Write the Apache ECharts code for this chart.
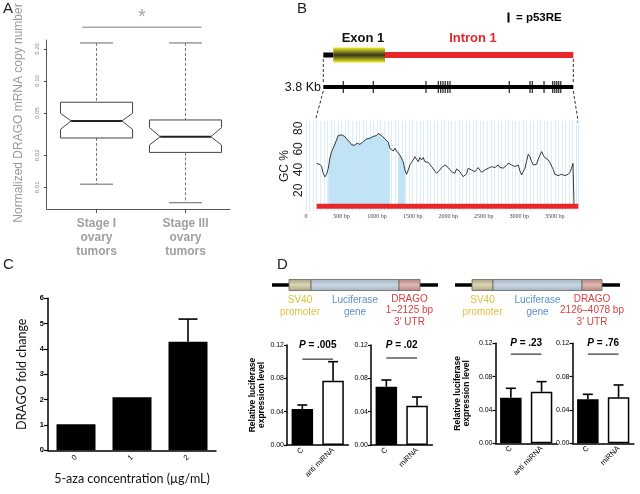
<!DOCTYPE html>
<html><head><meta charset="utf-8">
<script src="https://cdn.jsdelivr.net/npm/echarts@6/dist/echarts.min.js"></script>
<style>html,body{margin:0;padding:0;background:#fff}#c{width:640px;height:494px}</style>
</head><body><div id="c"></div>
<script>
// ---------- Panel A : notched box plot (log scale) ----------
const boxCategories = ['Stage I\novary\ntumors', 'Stage III\novary\ntumors'];
const boxLowWhisker  = [0.0107, 0.00716];
const boxQ1          = [0.0291, 0.0213];
const boxNotchLow    = [0.0351, 0.0250];
const boxMedian      = [0.0421, 0.0299];
const boxNotchHigh   = [0.0497, 0.0364];
const boxQ3          = [0.0631, 0.0430];
const boxHighWhisker = [0.228, 0.228];
const aTicks = [0.01, 0.02, 0.05, 0.10, 0.20];
const sigSpanA = [0.84, 2.18, 0.32, 0.40];   // from, to, line value, star value

// ---------- Panel B : gene structure, p53RE sites, GC content ----------
const kbLength = 3800;
const geneSegments = [[0, 152, 0], [152, 938, 1], [938, 3800, 2]]; // start, end, type(0 utr,1 exon,2 intron)
const p53RE = [304, 760, 1561, 1748, 1784, 1819, 1854, 1891, 1926, 2827, 3142, 3177, 3355, 3487, 3518, 3548, 3578, 3609];
const gcYTicks = [20, 40, 60, 80];
const gcCurve = [
 [150,46],[172,44.5],[196,45],[219,43],[242,36.5],[266,33],[289,35.5],[313,41],[336,51],[360,57.4],
 [383,60.7],[406,62],[430,68.7],[453,73],[477,74],[500,73.6],[524,74.5],[547,72],[571,69.7],[594,67.8],
 [617,66.5],[640,64],[664,65],[688,63.5],[711,65.5],[735,64],[758,64.5],[782,66],[805,67],[828,68.5],
 [852,69.7],[875,69],[899,70.4],[922,71],[945,72],[969,71.5],[993,73],[1016,75],[1040,75],[1063,73],
 [1086,72],[1110,69.7],[1134,68.7],[1157,66.5],[1180,60.7],[1204,59],[1227,58],[1251,60.7],[1274,58],[1297,56.8],
 [1321,54],[1344,52.5],[1367,47.7],[1391,39.7],[1415,35.5],[1438,39.7],[1461,44.5],[1485,47],[1508,49.4],[1532,52.5],
 [1556,51],[1579,47.7],[1602,51.6],[1626,49.4],[1649,51.6],[1672,47.7],[1696,49.4],[1720,47],[1743,46],[1766,43],
 [1790,41.3],[1813,38.5],[1837,36.5],[1860,38],[1883,39.7],[1907,42],[1930,43],[1954,44.5],[1977,43.5],[2000,42],
 [2024,40],[2047,38],[2070,37.5],[2094,36.5],[2118,40.7],[2141,39],[2165,38],[2188,35.5],[2211,33.2],[2235,31.6],
 [2258,36],[2282,41.3],[2305,40.5],[2329,39.7],[2352,38.5],[2376,38],[2399,40],[2422,42],[2446,39.5],[2470,37.4],
 [2493,38.5],[2516,39.7],[2540,40.5],[2563,41.3],[2587,42],[2610,42.9],[2633,41.5],[2657,42],[2680,43.5],[2704,44.5],
 [2727,42],[2751,40.7],[2774,41.5],[2797,41.3],[2821,44],[2844,46.2],[2868,45],[2892,44.5],[2915,43.5],[2938,42.9],
 [2962,43.8],[2985,44.5],[3008,39],[3032,34.8],[3055,38],[3079,41.3],[3102,48],[3126,54.9],[3149,52.6],[3172,48],
 [3196,44.5],[3220,45.5],[3243,45.2],[3267,50],[3290,54],[3314,57.4],[3337,54],[3360,51.6],[3384,50.5],[3407,49.4],
 [3430,47],[3454,45.2],[3478,40],[3501,35.5],[3524,34.5],[3548,34.2],[3571,35],[3595,35.5],[3618,34.8],[3641,34.2],
 [3665,35],[3688,35.5],[3712,37.5],[3735,41.3],[3755,46],[3768,47.7],[3770,5]
];
const cpgIsland1 = [313, 1190];
const cpgIsland2 = [1285, 1400];
const gcBaseBar = [150, 3830, 4.5];

// ---------- Panel C : 5-aza ----------
const cCategories = ['0', '1', '2'];
const cValues = [1.03, 2.03, 4.28];
const cErrTop = [1.03, 2.06, 5.18];

// ---------- Panel D : luciferase ----------
const d1Categories = ['C', 'anti miRNA'], d1Values = [0.0432, 0.077], d1ErrTop = [0.048, 0.100];
const d2Categories = ['C', 'miRNA'],      d2Values = [0.070, 0.047],  d2ErrTop = [0.078, 0.0576];
const d3Categories = ['C', 'anti miRNA'], d3Values = [0.0547, 0.062], d3ErrTop = [0.066, 0.074];
const d4Categories = ['C', 'miRNA'],      d4Values = [0.053, 0.0552], d4ErrTop = [0.0588, 0.070];
const dPValues = ['.005', '.02', '.23', '.76'];
const dPLine = [0.103, 0.1044, 0.107, 0.107];
const dPText = 0.1195;

const FONT = 'Liberation Sans';
const chart = echarts.init(document.getElementById('c'), null, {renderer: 'canvas'});

const grids = [
  {left: 46.7, top: 40, width: 183.3, height: 169},   // 0 A
  {left: 306, top: 121, width: 272.3, height: 90},    // 1 GC
  {left: 323.3, top: 45, width: 250, height: 20},     // 2 gene
  {left: 323.3, top: 78, width: 250, height: 18},     // 3 kb
  {left: 48, top: 298.3, width: 168, height: 152},    // 4 C
  {left: 287, top: 345, width: 61.4, height: 100},    // 5 D1
  {left: 371, top: 345, width: 61.4, height: 100},    // 6 D2
  {left: 495.5, top: 343.3, width: 61.4, height: 100},// 7 D3
  {left: 572.5, top: 343.3, width: 61.4, height: 100} // 8 D4
].map(g => Object.assign({outerBoundsMode: 'none', containLabel: false}, g));

const xAxes = [], yAxes = [], series = [];

// ---- A axes
xAxes.push({gridIndex: 0, type: 'value', min: 0.44, max: 2.5,
  axisLine: {show: true, lineStyle: {color: '#555', width: 1}},
  axisTick: {show: true, customValues: [1, 2], length: 4, lineStyle: {color: '#555'}},
  axisLabel: {customValues: [1, 2], formatter: v => boxCategories[Math.round(v) - 1], fontFamily: FONT,
    fontSize: 12, fontWeight: 'bold', color: '#a0a0a0', lineHeight: 14, margin: 8},
  splitLine: {show: false}});
yAxes.push({gridIndex: 0, type: 'log', logBase: 10, min: 0.00625, max: 0.243,
  axisLine: {show: true, lineStyle: {color: '#555', width: 1}},
  axisTick: {show: true, customValues: aTicks, length: 3, lineStyle: {color: '#555'}},
  axisLabel: {customValues: aTicks, rotate: 90, fontSize: 6, color: '#888', margin: 6,
    formatter: v => v.toFixed(2), fontFamily: FONT},
  splitLine: {show: false}});
series.push({type: 'custom', xAxisIndex: 0, yAxisIndex: 0,
  data: boxCategories.map((_, i) => [i + 1, boxLowWhisker[i], boxQ1[i], boxNotchLow[i], boxMedian[i], boxNotchHigh[i], boxQ3[i], boxHighWhisker[i]]),
  encode: {x: 0, y: [1, 2, 3, 4, 5, 6, 7]},
  renderItem: (params, api) => {
    const x = api.value(0);
    const p = v => api.coord([x, v]);
    const unit = api.coord([x + 1, api.value(4)])[0] - api.coord([x, api.value(4)])[0];
    const cx = p(api.value(4))[0];
    const yLo = p(api.value(1))[1], yQ1 = p(api.value(2))[1], yNL = p(api.value(3))[1], yMd = p(api.value(4))[1],
          yNH = p(api.value(5))[1], yQ3 = p(api.value(6))[1], yHi = p(api.value(7))[1];
    const hw = unit * 0.405, nw = unit * 0.285, cw = unit * 0.185;
    const dash = {stroke: '#777', lineWidth: 1, lineDash: [3, 2]};
    const cap = {stroke: '#666', lineWidth: 1};
    return {type: 'group', children: [
      {type: 'line', shape: {x1: cx, y1: yHi, x2: cx, y2: yQ3}, style: dash},
      {type: 'line', shape: {x1: cx, y1: yQ1, x2: cx, y2: yLo}, style: dash},
      {type: 'line', shape: {x1: cx - cw, y1: yHi, x2: cx + cw, y2: yHi}, style: cap},
      {type: 'line', shape: {x1: cx - cw, y1: yLo, x2: cx + cw, y2: yLo}, style: cap},
      {type: 'polygon', shape: {points: [[cx - hw, yQ3], [cx + hw, yQ3], [cx + hw, yNH], [cx + nw, yMd], [cx + hw, yNL], [cx + hw, yQ1],
        [cx - hw, yQ1], [cx - hw, yNL], [cx - nw, yMd], [cx - hw, yNH]]}, style: {fill: '#fff', stroke: '#444', lineWidth: 1}},
      {type: 'line', shape: {x1: cx - nw, y1: yMd, x2: cx + nw, y2: yMd}, style: {stroke: '#222', lineWidth: 2}}
    ]};
  }});
series.push({type: 'custom', xAxisIndex: 0, yAxisIndex: 0, clip: false, silent: true,
  data: [sigSpanA], encode: {x: [0, 1], y: [2, 3]},
  renderItem: (params, api) => {
    const a = api.coord([api.value(0), api.value(2)]);
    const b = api.coord([api.value(1), api.value(2)]);
    const s = api.coord([(api.value(0) + api.value(1)) / 2, api.value(3)]);
    return {type: 'group', children: [
      {type: 'line', shape: {x1: a[0], y1: a[1], x2: b[0], y2: b[1]}, style: {stroke: '#aaa', lineWidth: 1.5}},
      {type: 'text', style: {text: '*', x: s[0], y: s[1], align: 'center', verticalAlign: 'middle', fontSize: 20, fill: '#a8a8a8', fontFamily: FONT}}
    ]};
  }});

// ---- B GC axes
xAxes.push({gridIndex: 1, type: 'value', min: 0, max: 3830, interval: 50,
  axisLine: {show: false}, axisTick: {show: false},
  splitLine: {show: true, lineStyle: {color: '#d9eef9', width: 1}},
  axisLabel: {formatter: v => (v % 500 === 0 && v <= 3500) ? (v === 0 ? '0' : v + ' bp') : '', fontSize: 6,
    fontFamily: 'Liberation Serif', color: '#444', margin: 2}});
yAxes.push({gridIndex: 1, type: 'value', min: 0, max: 87,
  axisLine: {show: false}, axisTick: {show: false}, splitLine: {show: false},
  axisLabel: {customValues: gcYTicks, rotate: 90, fontSize: 12, color: '#222', margin: 1, fontFamily: FONT},
  name: 'GC %', nameLocation: 'middle', nameRotate: 90, nameGap: 15,
  nameTextStyle: {fontSize: 12, color: '#222', fontFamily: FONT}});
const fillStyle = {type: 'line', xAxisIndex: 1, yAxisIndex: 1, showSymbol: false, symbol: 'none',
  lineStyle: {width: 0}, areaStyle: {color: '#bde1f4', opacity: 0.93, origin: gcBaseBar[2]}, z: 2, silent: true};
series.push(Object.assign({}, fillStyle, {data: gcCurve.filter(d => d[0] >= cpgIsland1[0] && d[0] <= cpgIsland1[1])}));
series.push(Object.assign({}, fillStyle, {data: gcCurve.filter(d => d[0] >= cpgIsland2[0] && d[0] <= cpgIsland2[1])}));
series.push({type: 'line', xAxisIndex: 1, yAxisIndex: 1, data: gcCurve, showSymbol: false, symbol: 'none',
  lineStyle: {color: '#222', width: 0.9}, z: 5, silent: true});
series.push({type: 'line', xAxisIndex: 1, yAxisIndex: 1, data: [[gcBaseBar[0], gcBaseBar[2]], [gcBaseBar[1], gcBaseBar[2]]],
  showSymbol: false, symbol: 'none', lineStyle: {color: '#e8262a', width: 5}, z: 6, silent: true});

// ---- B gene structure axes
xAxes.push({gridIndex: 2, type: 'value', min: 0, max: kbLength, show: false});
yAxes.push({gridIndex: 2, type: 'value', min: 0, max: 1, show: false});
series.push({type: 'custom', xAxisIndex: 2, yAxisIndex: 2, data: geneSegments, encode: {x: [0, 1]}, clip: false,
  renderItem: (params, api) => {
    const a = api.coord([api.value(0), 0.5]);
    const b = api.coord([api.value(1), 0.5]);
    const t = api.value(2);
    const h = t === 1 ? 15 : (t === 0 ? 5 : 6);
    const fill = t === 0 ? '#000' : t === 2 ? '#e8262a' :
      new echarts.graphic.LinearGradient(0, 0, 0, 1, [{offset: 0, color: '#eeee22'}, {offset: 0.5, color: '#36361a'}, {offset: 1, color: '#eeee22'}]);
    return {type: 'rect', shape: {x: a[0], y: a[1] - h / 2, width: b[0] - a[0], height: h}, style: {fill: fill}, z2: t === 1 ? 2 : 1};
  }});

// ---- B 3.8 kb p53RE line axes
xAxes.push({gridIndex: 3, type: 'value', min: 0, max: kbLength, show: false});
yAxes.push({gridIndex: 3, type: 'value', min: 0, max: 1, show: false});
series.push({type: 'line', xAxisIndex: 3, yAxisIndex: 3, data: [[0, 0.5], [kbLength, 0.5]], showSymbol: false, symbol: 'none',
  lineStyle: {color: '#000', width: 4}, silent: true});
series.push({type: 'scatter', xAxisIndex: 3, yAxisIndex: 3, data: p53RE.map(v => [v, 0.5]), symbol: 'rect',
  symbolSize: [1.3, 12], itemStyle: {color: '#000'}, silent: true});

// ---- C axes
xAxes.push({gridIndex: 4, type: 'category', data: cCategories,
  axisLine: {lineStyle: {color: '#000', width: 1.5}},
  axisTick: {alignWithLabel: true, length: 4, lineStyle: {color: '#000', width: 1.2}},
  axisLabel: {rotate: 45, fontSize: 7.5, color: '#000', margin: 6, fontFamily: FONT},
  name: '5-aza concentration (µg/mL)', nameLocation: 'middle', nameGap: 22,
  nameTextStyle: {fontSize: 12.5, color: '#111', fontFamily: 'Lato'}});
yAxes.push({gridIndex: 4, type: 'value', min: 0, max: 6, interval: 1,
  axisLine: {show: true, lineStyle: {color: '#000', width: 1.5}},
  axisTick: {show: true, length: 4, lineStyle: {color: '#000', width: 1.2}},
  axisLabel: {fontSize: 7.5, fontWeight: 'bold', color: '#000', margin: 4, fontFamily: FONT},
  splitLine: {show: false},
  name: 'DRAGO fold change', nameLocation: 'middle', nameRotate: 90, nameGap: 20,
  nameTextStyle: {fontSize: 12.5, color: '#111', fontFamily: 'Lato'}});

function errorSeries(ax, vals, tops, cap, barW) {
  return {type: 'custom', xAxisIndex: ax, yAxisIndex: ax, z: 1, silent: true,
    data: vals.map((v, i) => [i, v, tops[i]]), encode: {x: 0, y: [1, 2]},
    renderItem: (params, api) => {
      const a = api.coord([api.value(0), api.value(1)]);
      const b = api.coord([api.value(0), api.value(2)]);
      if (Math.abs(a[1] - b[1]) < 0.5) return null;
      const w = Math.abs(a[1] - b[1]) < 3 ? barW : cap;
      return {type: 'group', children: [
        {type: 'line', shape: {x1: a[0], y1: a[1], x2: b[0], y2: b[1]}, style: {stroke: '#000', lineWidth: 1.6}},
        {type: 'line', shape: {x1: b[0] - w / 2, y1: b[1], x2: b[0] + w / 2, y2: b[1]}, style: {stroke: '#000', lineWidth: 1.6}}
      ]};
    }};
}
series.push({type: 'bar', xAxisIndex: 4, yAxisIndex: 4, data: cValues, barWidth: 39, itemStyle: {color: '#000'}, z: 2, silent: true});
series.push(errorSeries(4, cValues, cErrTop, 19, 39));

// ---- D axes
const dSets = [
  [d1Categories, d1Values, d1ErrTop, true, 14],
  [d2Categories, d2Values, d2ErrTop, false, 0],
  [d3Categories, d3Values, d3ErrTop, true, 24],
  [d4Categories, d4Values, d4ErrTop, false, 0]
];
dSets.forEach((s, k) => {
  const gi = 5 + k;
  xAxes.push({gridIndex: gi, type: 'category', data: s[0],
    axisLine: {lineStyle: {color: '#000', width: 1.5}},
    axisTick: {alignWithLabel: true, length: 3, lineStyle: {color: '#000', width: 1.2}},
    axisLabel: {rotate: 45, fontSize: 7.5, color: '#000', margin: 4, fontFamily: FONT}});
  yAxes.push({gridIndex: gi, type: 'value', min: 0, max: 0.12, interval: 0.04,
    axisLine: {show: true, lineStyle: {color: '#000', width: 1.5}},
    axisTick: {show: true, length: 3, lineStyle: {color: '#000', width: 1.2}},
    axisLabel: {fontSize: 7, color: '#000', margin: 3, formatter: v => v.toFixed(2), fontFamily: FONT},
    splitLine: {show: false},
    name: s[3] ? 'Relative luciferase\nexpression level' : '', nameLocation: 'middle', nameRotate: 90, nameGap: s[4],
    nameTextStyle: {fontSize: 8.5, fontWeight: 'bold', color: '#000', lineHeight: 9.5, fontFamily: FONT}});
  series.push({type: 'bar', xAxisIndex: gi, yAxisIndex: gi, barWidth: 21.5, z: 2, silent: true,
    data: s[1].map((v, i) => ({value: v, itemStyle: {color: i === 0 ? '#000' : '#fff', borderColor: '#000', borderWidth: 1.5}}))});
  series.push(errorSeries(gi, s[1], s[2], 10, 10));
  series.push({type: 'custom', xAxisIndex: gi, yAxisIndex: gi, clip: false, silent: true,
    data: [[0, 1, dPLine[k], dPText]], encode: {x: [0, 1], y: [2, 3]},
    renderItem: (params, api) => {
      const a = api.coord([api.value(0), api.value(2)]);
      const b = api.coord([api.value(1), api.value(2)]);
      const t = api.coord([api.value(0), api.value(3)]);
      return {type: 'group', children: [
        {type: 'line', shape: {x1: a[0], y1: a[1], x2: b[0], y2: b[1]}, style: {stroke: '#333', lineWidth: 1.2}},
        {type: 'text', style: {text: '{i|P} = ' + dPValues[k], x: (a[0] + b[0]) / 2, y: t[1], align: 'center', verticalAlign: 'middle',
          fontSize: 10, fontWeight: 'bold', fill: '#000', fontFamily: FONT,
          rich: {i: {fontStyle: 'italic', fontWeight: 'bold', fontSize: 10, fontFamily: FONT}}}}
      ]};
    }});
});

// ---------- decorations ----------
const panelLabel = (t, x, y) => ({type: 'text', x: x, y: y, style: {text: t, fontSize: 15, fill: '#222', fontFamily: FONT}});
const dashLine = (x1, y1, x2, y2) => ({type: 'line', shape: {x1, y1, x2, y2}, style: {stroke: '#333', lineWidth: 1, lineDash: [3, 2]}});
const grad = (e, c) => new echarts.graphic.LinearGradient(0, 0, 0, 1, [{offset: 0, color: e}, {offset: 0.5, color: c}, {offset: 1, color: e}]);
function construct(x0, x1, b, labelDrago) {
  const y = 285;
  return [
    {type: 'line', shape: {x1: x0, y1: y, x2: x1, y2: y}, style: {stroke: '#000', lineWidth: 3.5}},
    {type: 'rect', shape: {x: b[0], y: y - 5.5, width: b[1] - b[0], height: 11}, style: {fill: grad('#aaa27c', '#dcd6b8'), stroke: '#666', lineWidth: 0.8}},
    {type: 'rect', shape: {x: b[1], y: y - 5.5, width: b[2] - b[1], height: 11}, style: {fill: grad('#a2b4c2', '#cbd7e0'), stroke: '#666', lineWidth: 0.8}},
    {type: 'rect', shape: {x: b[2], y: y - 5.5, width: b[3] - b[2], height: 11}, style: {fill: grad('#b8837d', '#dfb9b2'), stroke: '#666', lineWidth: 0.8}},
    {type: 'text', x: (b[0] + b[1]) / 2, y: 294, style: {text: 'SV40\npromoter', align: 'center', fontSize: 10, lineHeight: 12, fill: '#e1c13c', fontFamily: FONT}},
    {type: 'text', x: (b[1] + b[2]) / 2, y: 294, style: {text: 'Luciferase\ngene', align: 'center', fontSize: 10, lineHeight: 12, fill: '#5b8fc9', fontFamily: FONT}},
    {type: 'text', x: (b[2] + b[3]) / 2, y: 293, style: {text: labelDrago, align: 'center', fontSize: 10, lineHeight: 11.8, fill: '#d8403e', fontFamily: FONT}}
  ];
}
const graphics = [
  panelLabel('A', 3, 1), panelLabel('B', 297, 1), panelLabel('C', 3, 257), panelLabel('D', 277, 257),
  {type: 'text', x: 18.5, y: 113, rotation: Math.PI / 2, style: {text: 'Normalized DRAGO mRNA copy number', align: 'center', verticalAlign: 'middle', fontSize: 12, fill: '#9a9a9a', fontFamily: FONT}},
  {type: 'rect', shape: {x: 507.5, y: 12.5, width: 2, height: 10}, style: {fill: '#000'}},
  {type: 'text', x: 516, y: 17.5, style: {text: '= p53RE', verticalAlign: 'middle', fontSize: 11.5, fontWeight: 'bold', fill: '#000', fontFamily: FONT}},
  {type: 'text', x: 363, y: 38, style: {text: 'Exon 1', align: 'center', verticalAlign: 'middle', fontSize: 13, fontWeight: 'bold', fill: '#111', fontFamily: FONT}},
  {type: 'text', x: 473, y: 38, style: {text: 'Intron 1', align: 'center', verticalAlign: 'middle', fontSize: 13, fontWeight: 'bold', fill: '#e3262a', fontFamily: FONT}},
  {type: 'text', x: 321, y: 88, style: {text: '3.8 Kb', align: 'right', verticalAlign: 'middle', fontSize: 12.5, fill: '#111', fontFamily: FONT}},
  dashLine(323.3, 59, 323.3, 84), dashLine(573.3, 59, 573.3, 84),
  dashLine(323.3, 91, 316, 118), dashLine(573.3, 91, 578.5, 124),
  ...construct(272, 438, [289, 311, 399, 420], 'DRAGO\n1–2125 bp\n3′ UTR'),
  ...construct(455, 620, [472, 493, 582, 602], 'DRAGO\n2126–4078 bp\n3′ UTR')
];

chart.setOption({
  animation: false,
  textStyle: {fontFamily: FONT},
  grid: grids, xAxis: xAxes, yAxis: yAxes, series: series,
  graphic: graphics
});
</script></body></html>
